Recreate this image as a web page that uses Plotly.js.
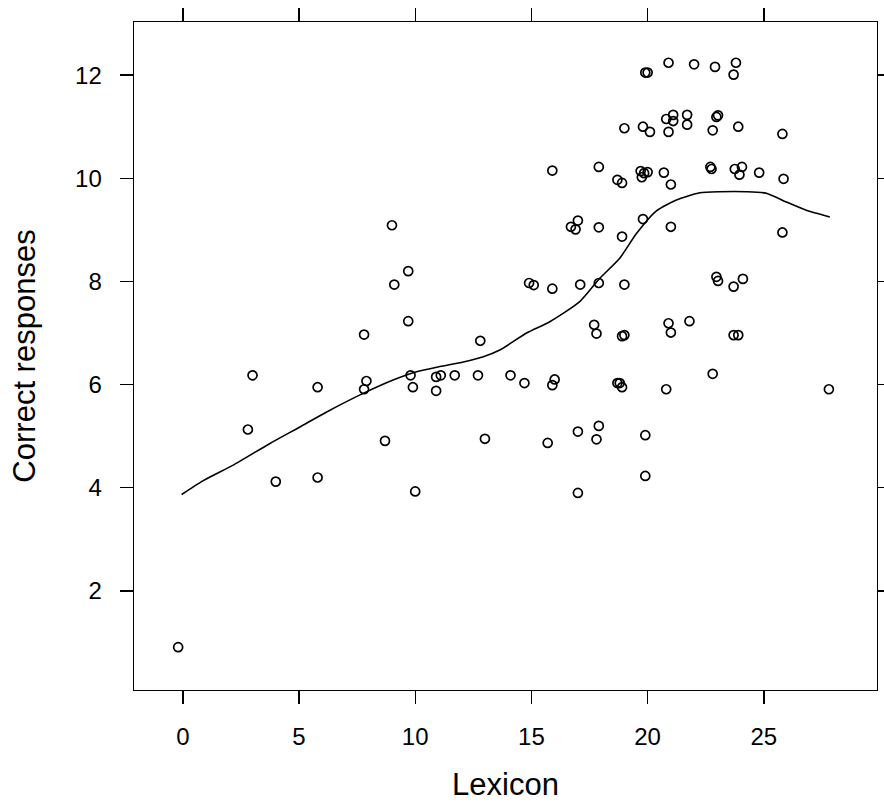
<!DOCTYPE html>
<html>
<head>
<meta charset="utf-8">
<script src="https://cdn.plot.ly/plotly-3.0.1.min.js"></script>
<style>html,body{margin:0;padding:0;background:#fff;}#chart{width:884px;height:802px;}</style>
</head>
<body>
<div id="chart"></div>
<script>
// Scatter points (Lexicon, Correct responses)
const lexicon = [
  9.0, 9.7, 9.1, 9.7, 7.8, 12.8,
  3.0, 5.8, 7.9, 7.8, 2.8, 8.7, 4.0, 5.8,
  9.8, 9.9, 10.0, 10.9, 11.1, 10.9, 11.7, 12.7, 13.0, 14.1, -0.2,
  17.7, 17.8, 18.9, 19.0, 21.0, 20.9, 21.8, 23.7, 23.9,
  14.7, 16.0, 15.9, 18.7, 18.8, 18.9, 20.8, 22.8, 27.8,
  17.0, 17.9, 17.8, 15.7, 19.9, 19.9, 17.0,
  20.9, 22.0, 22.9, 23.8, 23.7, 19.9, 20.0,
  19.0, 19.8, 20.1, 20.8, 21.1, 21.1, 20.9, 21.7, 21.7, 22.96, 23.03, 22.8, 23.9, 25.8,
  15.9, 17.9, 18.7, 18.9, 19.7, 19.85, 20.0, 19.75, 20.7, 21.0, 22.7, 22.75, 23.75, 24.06, 23.95, 24.8, 25.85,
  16.7, 16.9, 17.0, 17.9, 18.9, 19.8, 21.0, 25.8,
  14.9, 15.1, 15.9, 17.1, 17.9, 19.0, 22.96, 23.03, 23.7, 24.1
];
const correct = [
  9.09, 8.20, 7.94, 7.23, 6.97, 6.85,
  6.18, 5.95, 6.07, 5.91, 5.13, 4.91, 4.12, 4.20,
  6.18, 5.95, 3.93, 6.15, 6.18, 5.88, 6.18, 6.18, 4.95, 6.18, 0.91,
  7.16, 6.99, 6.94, 6.96, 7.01, 7.19, 7.23, 6.96, 6.96,
  6.03, 6.10, 5.99, 6.03, 6.03, 5.95, 5.91, 6.21, 5.91,
  5.09, 5.20, 4.94, 4.87, 5.02, 4.23, 3.90,
  12.24, 12.21, 12.16, 12.24, 12.01, 12.05, 12.05,
  10.97, 11.00, 10.90, 11.15, 11.23, 11.11, 10.90, 11.23, 11.04, 11.19, 11.22, 10.93, 11.00, 10.86,
  10.15, 10.22, 9.97, 9.91, 10.14, 10.10, 10.12, 10.02, 10.11, 9.88, 10.22, 10.18, 10.18, 10.22, 10.07, 10.11, 9.99,
  9.06, 9.01, 9.18, 9.05, 8.87, 9.21, 9.06, 8.95,
  7.97, 7.93, 7.86, 7.94, 7.97, 7.94, 8.09, 8.01, 7.90, 8.05
];
// Smooth (loess) curve
const smoothX = [-0.05, 0.88, 2.17, 3.75, 5.04, 6.19, 7.76, 9.05, 10.06, 11.06, 12.07, 12.93, 13.64,
  14.79, 15.79, 17.08, 17.94, 18.80, 19.52, 20.38, 21.24, 22.25, 23.1, 24.25, 25.11, 25.97, 26.83, 27.84];
const smoothY = [3.87, 4.14, 4.44, 4.86, 5.18, 5.47, 5.83, 6.09, 6.25, 6.35, 6.44, 6.54, 6.67,
  7.00, 7.22, 7.61, 8.06, 8.45, 8.93, 9.37, 9.58, 9.72, 9.74, 9.74, 9.71, 9.54, 9.38, 9.25];
const xTicks = [0, 5, 10, 15, 20, 25];
const yTicks = [2, 4, 6, 8, 10, 12];
const xLabel = 'Lexicon';
const yLabel = 'Correct responses';

const font = 'Liberation Sans, Arial, Helvetica, sans-serif';
const traces = [
  {x: lexicon, y: correct, type: 'scatter', mode: 'markers',
   marker: {symbol: 'circle-open', size: 9, color: '#000', line: {width: 1.7, color: '#000'}},
   hoverinfo: 'x+y', showlegend: false},
  {x: smoothX, y: smoothY, type: 'scatter', mode: 'lines',
   line: {color: '#000', width: 1.6, shape: 'spline', smoothing: 0.6}, showlegend: false}
];
const axisCommon = {
  showgrid: false, zeroline: false, showline: true, linecolor: '#000', linewidth: 1.4,
  mirror: 'ticks', ticks: 'outside', ticklen: 13, tickwidth: 1.4, tickcolor: '#000',
  tickfont: {family: font, size: 24, color: '#000'}
};
const layout = {
  width: 884, height: 802,
  margin: {l: 134, r: 7, t: 22, b: 112},
  paper_bgcolor: '#fff', plot_bgcolor: '#fff',
  xaxis: Object.assign({}, axisCommon, {
    range: [-2.1, 29.87], tickvals: xTicks, ticktext: xTicks.map(String),
    ticklabelstandoff: 12,
    title: {text: xLabel, font: {family: font, size: 31, color: '#000'}, standoff: 24}
  }),
  yaxis: Object.assign({}, axisCommon, {
    range: [0.08, 13.03], tickvals: yTicks, ticktext: yTicks.map(String),
    ticklabelstandoff: 13,
    title: {text: yLabel, font: {family: font, size: 31, color: '#000'}, standoff: 30}
  })
};
Plotly.newPlot('chart', traces, layout, {displayModeBar: false, staticPlot: true});
</script>
</body>
</html>
